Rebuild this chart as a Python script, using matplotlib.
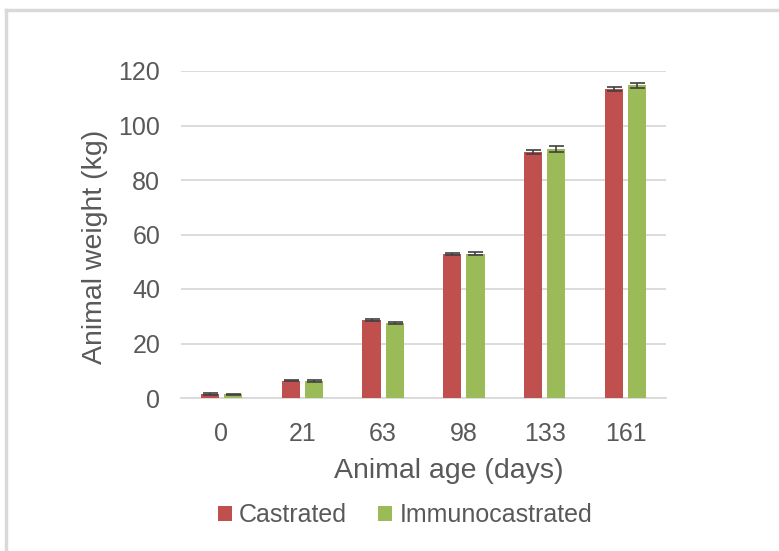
import matplotlib

matplotlib.use("Agg")
import matplotlib.pyplot as plt  # noqa: E402
import numpy as np  # noqa: E402
from matplotlib.lines import Line2D  # noqa: E402

RED = "#C0504D"
GREEN = "#9BBB59"
TEXT = "#595959"
GRID = "#D9D9D9"
ERR = "#404040"

ages = ["0", "21", "63", "98", "133", "161"]
castrated = [1.4, 6.4, 28.7, 52.8, 90.4, 113.4]
castrated_err = [0.3, 0.3, 0.4, 0.4, 0.7, 0.7]
immuno = [1.3, 6.25, 27.5, 53.0, 91.3, 114.7]
immuno_err = [0.3, 0.5, 0.4, 0.7, 1.0, 1.0]
yticks = [0, 20, 40, 60, 80, 100, 120]

plt.rcParams.update({"font.family": ["Liberation Sans", "DejaVu Sans"]})

fig = plt.figure(figsize=(7.79, 5.51), dpi=100)
ax = fig.add_axes([181 / 779, 1 - 398 / 551, 485 / 779, 327 / 551])

x = np.arange(len(ages))
w = 0.225
off = 0.143
err_kw = dict(ecolor=ERR, elinewidth=1.2, capsize=5.4, capthick=1.2)
ax.bar(x - off, castrated, w, yerr=castrated_err, color=RED, label="Castrated",
       zorder=3, error_kw=err_kw)
ax.bar(x + off, immuno, w, yerr=immuno_err, color=GREEN, label="Immunocastrated",
       zorder=3, error_kw=err_kw)

ax.set_xlim(-0.5, len(ages) - 0.5)
ax.set_ylim(0, 120)
ax.set_yticks(yticks)
ax.set_xticks(x)
ax.set_xticklabels(ages)
ax.tick_params(axis="both", length=0, labelsize=18, labelcolor=TEXT)
ax.tick_params(axis="x", pad=17)
ax.tick_params(axis="y", pad=15)
ax.grid(axis="y", color=GRID, lw=1.3)
ax.set_axisbelow(True)
for side in ("top", "right", "left"):
    ax.spines[side].set_visible(False)
ax.spines["bottom"].set_color(GRID)
ax.spines["bottom"].set_linewidth(1.3)

ax.set_xlabel("Animal age (days)", fontsize=20.5, color=TEXT)
ax.xaxis.set_label_coords(0.553, -0.185)
ax.set_ylabel("Animal weight (kg)", fontsize=20.5, color=TEXT)
ax.yaxis.set_label_coords(-0.150, 0.461)

fig.legend(loc="center", bbox_to_anchor=(405 / 779, 1 - 515 / 551), ncol=2,
           frameon=False, fontsize=18, labelcolor=TEXT, handlelength=0.55,
           handleheight=0.55, handletextpad=0.3, columnspacing=1.25)

# outer chart frame (top and left edges visible)
fig.add_artist(Line2D([6 / 779, 1.0], [1 - 10 / 551] * 2, color=GRID, lw=2.5,
                      transform=fig.transFigure))
fig.add_artist(Line2D([6 / 779] * 2, [0, 1 - 10 / 551], color=GRID, lw=2.5,
                      transform=fig.transFigure))

fig.savefig("out.png", dpi=100, facecolor="white")
